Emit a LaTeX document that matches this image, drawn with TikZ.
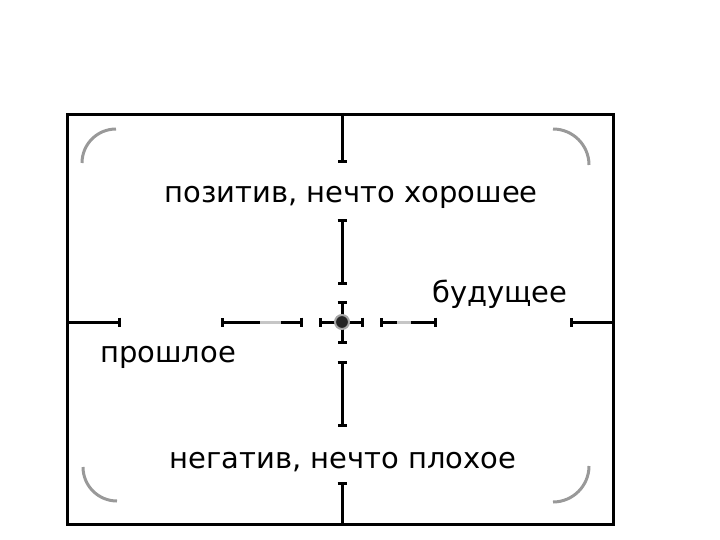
\documentclass[tikz,border=0pt]{standalone}
\usepackage{fontspec}
\setmainfont{DejaVu Sans}
\usetikzlibrary{arrows.meta}
\begin{document}
\begin{tikzpicture}[x=1pt,y=-1pt,
  seg/.style={line width=3pt},
  bb/.style={seg,{Bar[width=9pt,length=2pt]}-{Bar[width=9pt,length=2pt]}},
  be/.style={seg,-{Bar[width=9pt,length=2pt]}},
  grayseg/.style={line width=3pt,draw=gray!45},
  corner/.style={line width=3pt,draw=gray!80},
  lbl/.style={inner sep=0pt,font=\fontsize{29}{34}\selectfont}]
\useasboundingbox (0,0) rectangle (720,540);
\node[draw,line width=3pt,minimum width=546pt,minimum height=410pt,inner sep=0pt,anchor=north west] (frame) at (66,113) {};
% horizontal axis
\coordinate (hl0) at (66,322); \coordinate (hl1) at (121,322);
\coordinate (hm0) at (221,322); \coordinate (hm1) at (303,322);
\coordinate (hc0) at (319,322); \coordinate (hc1) at (364,322);
\coordinate (hr0) at (380,322); \coordinate (hr1) at (437,322);
\coordinate (he0) at (570,322); \coordinate (he1) at (612,322);
\draw[be] (hl0) -- (hl1);
\draw[bb] (hm0) -- (hm1);
\draw[grayseg] (260,322) -- (281,322);
\draw[bb] (hc0) -- (hc1);
\draw[bb] (hr0) -- (hr1);
\draw[grayseg] (397,322) -- (411,322);
\draw[be] (he1) -- (he0);
% vertical axis
\coordinate (vt0) at (342,113); \coordinate (vt1) at (342,163);
\coordinate (vm0) at (342,219); \coordinate (vm1) at (342,285);
\coordinate (vc0) at (342,301); \coordinate (vc1) at (342,344);
\coordinate (vd0) at (342,361); \coordinate (vd1) at (342,427);
\coordinate (vb0) at (342,482); \coordinate (vb1) at (342,523);
\draw[be] (vt0) -- (vt1);
\draw[bb] (vm0) -- (vm1);
\draw[bb] (vc0) -- (vc1);
\draw[bb] (vd0) -- (vd1);
\draw[be] (vb1) -- (vb0);
% center dot
\node[circle,fill=black!85,draw=gray!70,line width=2pt,minimum size=14pt,inner sep=0pt] (dot) at (342,322) {};
% corners
\draw[corner] (82,163) arc[start angle=180,end angle=270,radius=34];
\draw[corner] (553,129) arc[start angle=270,end angle=360,radius=36];
\draw[corner] (83,467) arc[start angle=180,end angle=90,radius=34];
\draw[corner] (553,502) arc[start angle=90,end angle=0,radius=36];
% labels
\node[lbl] (pos) at (351,197) {позитив, нечто хорошее};
\node[lbl] (fut) at (500,294) {будущее};
\node[lbl] (past) at (168,357) {прошлое};
\node[lbl] (neg) at (343,462) {негатив, нечто плохое};
\end{tikzpicture}
\end{document}
